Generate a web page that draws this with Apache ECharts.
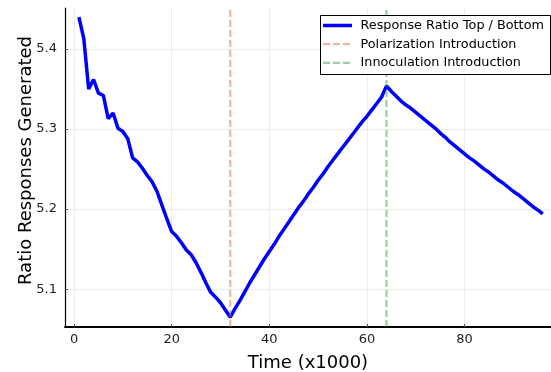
<!DOCTYPE html>
<html>
<head>
<meta charset="utf-8">
<script src="https://cdn.jsdelivr.net/npm/echarts@6/dist/echarts.min.js"></script>
<style>html,body{margin:0;padding:0;background:#fff}#c{width:551px;height:372px}</style>
</head>
<body>
<div id="c"></div>
<script>
var times = [1,2,3,4,5,6,7,8,9,10,11,12,13,14,15,16,17,18,19,20,21,22,23,24,25,26,27,28,29,30,31,32,33,34,35,36,37,38,39,40,41,42,43,44,45,46,47,48,49,50,51,52,53,54,55,56,57,58,59,60,61,62,63,64,65,66,67,68,69,70,71,72,73,74,75,76,77,78,79,80,81,82,83,84,85,86,87,88,89,90,91,92,93,94,95,96];
var ratio = [5.440,5.413,5.350,5.362,5.345,5.342,5.313,5.320,5.301,5.297,5.288,5.264,5.259,5.251,5.242,5.234,5.222,5.205,5.188,5.172,5.166,5.158,5.149,5.143,5.133,5.121,5.108,5.096,5.090,5.083,5.074,5.065,
5.076,5.086,5.097,5.108,5.118,5.128,5.138,5.147,5.156,5.166,5.175,5.184,5.193,5.202,5.210,5.219,5.227,5.236,5.244,5.253,5.261,5.269,5.277,5.285,5.293,5.301,5.309,5.316,5.324,5.332,5.340,5.354,
5.347,5.341,5.335,5.330,5.326,5.321,5.316,5.311,5.306,5.301,5.295,5.290,5.284,5.279,5.274,5.269,5.264,5.260,5.255,5.250,5.246,5.241,5.236,5.232,5.227,5.222,5.218,5.213,5.208,5.203,5.199,5.194];
var polarizationAt = 32;
var innoculationAt = 64;
var xTicks = [0,20,40,60,80];
var yTicks = [5.1,5.2,5.3,5.4];
var xRange = [-1.85, 97.7];
var yRange = [5.0527, 5.4513];
var seriesNames = ['Response Ratio Top / Bottom','Polarization Introduction','Innoculation Introduction'];

var font = 'DejaVu Sans';
var blue = '#0000ff', orange = '#e26f46', green = '#3da44d';
var chart = echarts.init(document.getElementById('c'), null, {renderer:'canvas'});
var lineData = times.map(function(t,i){return [t, ratio[i]];});

// legend drawn as graphic elements (line samples with dash styles)
var legendX = 320, legendY = 15, rowH = 18.7;
var legendItems = [
  {name:seriesNames[0], color:blue, opacity:1, width:3.5, dash:null},
  {name:seriesNames[1], color:orange, opacity:0.5, width:2.3, dash:[7,3]},
  {name:seriesNames[2], color:green, opacity:0.5, width:2.3, dash:[7,3]}
];
var graphics = [{type:'rect', left:legendX, top:legendY, z:10,
  shape:{width:230, height:59}, style:{fill:'#fff', stroke:'#000', lineWidth:1}}];
legendItems.forEach(function(it, i){
  var cy = legendY + 10.5 + i*rowH;
  graphics.push({type:'line', z:11, shape:{x1:legendX+3, y1:cy, x2:legendX+32, y2:cy},
    style:{stroke:it.color, lineWidth:it.width, opacity:it.opacity, lineDash:it.dash}});
  graphics.push({type:'text', z:11, x:legendX+40.5, y:cy,
    style:{text:it.name, fill:'#000', font:'12.8px "DejaVu Sans"', textVerticalAlign:'middle', textAlign:'left'}});
});

chart.setOption({
  animation:false,
  backgroundColor:'#fff',
  grid:{left:65, top:8, right:0, bottom:45, containLabel:false, outerBoundsMode:'none'},
  graphic:graphics,
  xAxis:{
    type:'value', min:xRange[0], max:xRange[1],
    name:'Time (x1000)', nameLocation:'middle', nameGap:27, nameMoveOverlap:false,
    nameTextStyle:{fontFamily:font, fontSize:18, color:'#000'},
    axisLine:{show:true, onZero:false, lineStyle:{color:'#000', width:2}},
    axisTick:{show:true, inside:true, length:3, customValues:xTicks, lineStyle:{color:'#555'}},
    axisLabel:{customValues:xTicks, fontFamily:font, fontSize:13, color:'#222', margin:6},
    splitLine:{show:true, lineStyle:{color:'#ebebeb', width:1}}
  },
  yAxis:{
    type:'value', min:yRange[0], max:yRange[1],
    name:'Ratio Responses Generated', nameLocation:'middle', nameGap:30, nameMoveOverlap:false,
    nameTextStyle:{fontFamily:font, fontSize:18, color:'#000', padding:[0,0,0,14]},
    axisLine:{show:true, onZero:false, lineStyle:{color:'#000', width:1.2}},
    axisTick:{show:true, inside:true, length:3, customValues:yTicks, lineStyle:{color:'#555'}},
    axisLabel:{customValues:yTicks, fontFamily:font, fontSize:13, color:'#222', margin:8,
      formatter:function(v){return v.toFixed(1);}},
    splitLine:{show:true, lineStyle:{color:'#ebebeb', width:1}}
  },
  series:[
    {name:seriesNames[0], type:'line', data:lineData, showSymbol:false, symbol:'none',
     lineStyle:{color:blue, width:3.5}, itemStyle:{color:blue}, z:2},
    {name:seriesNames[1], type:'line', data:[[polarizationAt,yRange[0]],[polarizationAt,yRange[1]]],
     showSymbol:false, symbol:'none', lineStyle:{color:orange, opacity:0.5, width:2.3, type:[7,3]}, z:3},
    {name:seriesNames[2], type:'line', data:[[innoculationAt,yRange[0]],[innoculationAt,yRange[1]]],
     showSymbol:false, symbol:'none', lineStyle:{color:green, opacity:0.5, width:2.3, type:[7,3]}, z:3}
  ]
});
</script>
</body>
</html>
